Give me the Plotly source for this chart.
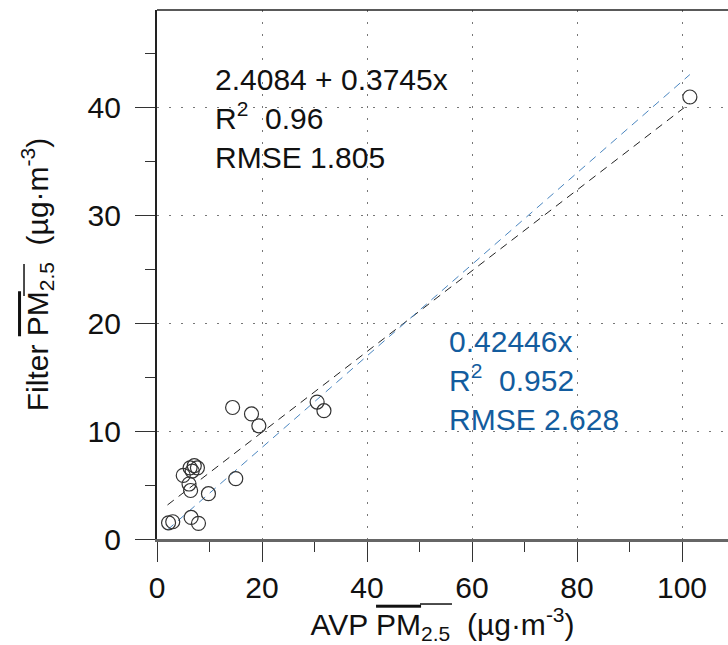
import plotly.graph_objects as go

# Data
avp = [2.2, 3.0, 6.5, 7.9, 9.8, 6.4, 6.1, 5.0, 6.3, 6.7, 7.1, 7.7, 15.0, 14.4, 18.0, 19.4, 30.5, 31.8, 101.5]
filt = [1.5, 1.6, 2.0, 1.45, 4.2, 4.5, 5.1, 5.9, 6.6, 6.3, 6.8, 6.6, 5.6, 12.2, 11.6, 10.5, 12.7, 11.9, 41.0]

fit1_intercept = 2.4084
fit1_slope = 0.3745
fit2_slope = 0.42446
fit_x = [2.0, 101.5]

x_ticks = [0, 20, 40, 60, 80, 100]
y_ticks = [0, 10, 20, 30, 40]

FONT = "Arial, Liberation Sans, sans-serif"
BLUE_TXT = "#135c9e"
BLUE_LINE = "#4a86c0"
nb = "\u00a0"
pad = "<span style='color:rgba(0,0,0,0)'>.</span>"

fig = go.Figure()

fig.add_trace(go.Scatter(
    x=fit_x, y=[fit1_intercept + fit1_slope * v for v in fit_x],
    mode="lines", line=dict(color="#222222", width=1, dash="8px,6px"),
    showlegend=False, hoverinfo="skip"))
fig.add_trace(go.Scatter(
    x=fit_x, y=[fit2_slope * v for v in fit_x],
    mode="lines", line=dict(color=BLUE_LINE, width=1, dash="8px,6px"),
    showlegend=False, hoverinfo="skip"))
fig.add_trace(go.Scatter(
    x=avp, y=filt, mode="markers",
    marker=dict(symbol="circle-open", size=14, color="#333333", line=dict(width=1.2, color="#333333")),
    showlegend=False))

fig.add_annotation(
    x=10.7, y=44.3, xref="x", yref="y", xanchor="left", yanchor="top", align="left",
    showarrow=False,
    text=f"2.4084 + 0.3745x<br>R<sup>2</sup>{nb}{nb}0.96<br>RMSE 1.805",
    font=dict(family=FONT, size=30, color="#111111"))
fig.add_annotation(
    x=55.2, y=20.0, xref="x", yref="y", xanchor="left", yanchor="top", align="left",
    showarrow=False,
    text=f"0.42446x<br>R<sup>2</sup>{nb}{nb}0.952<br>RMSE 2.628",
    font=dict(family=FONT, size=30, color=BLUE_TXT))

# top border
fig.add_shape(type="line", xref="paper", yref="paper", x0=0, x1=1, y0=1, y1=1,
              line=dict(color="#222222", width=1.5))
# overline extension above the "2.5" subscripts of the axis titles
fig.add_shape(type="line", xref="paper", yref="paper", x0=0.4606, x1=0.5166, y0=-0.1229, y1=-0.1229,
              line=dict(color="#111111", width=1.5))
fig.add_shape(type="line", xref="paper", yref="paper", x0=-0.2329, x1=-0.2329, y0=0.4594, y1=0.5198,
              line=dict(color="#111111", width=1.5))

pm = "<span style='text-decoration:overline'>PM</span><sub>2.5</sub>"
xtitle = f"AVP {pm}{nb}{nb}(µg·m<sup>-3</sup>)"
ytitle = f"Filter {pm}{nb}{nb}(µg·m<sup>-3</sup>)"

fig.update_layout(
    width=728, height=645,
    margin=dict(l=157, r=0, t=10, b=106),
    paper_bgcolor="white", plot_bgcolor="white",
    font=dict(family=FONT, color="#111111"),
    xaxis=dict(
        range=[0, 108.76], tickvals=x_ticks, ticktext=[str(v) for v in x_ticks],
        ticks="outside", ticklen=20, tickwidth=1.2, tickcolor="#333333",
        showline=True, linecolor="#666666", linewidth=2.5,
        showgrid=True, gridcolor="#777777", gridwidth=1, griddash="2px,10px",
        zeroline=False,
        tickfont=dict(family=FONT, size=30, color="#111111"),
        minor=dict(dtick=10, tick0=0, ticks="outside", ticklen=10, tickcolor="#333333", tickwidth=1.2, showgrid=False),
        title=dict(text=xtitle, font=dict(family=FONT, size=30, color="#111111"), standoff=8),
        automargin=False,
    ),
    yaxis=dict(
        range=[0, 49.07], tickvals=y_ticks, ticktext=[str(v) + pad for v in y_ticks],
        ticks="outside", ticklen=20, tickwidth=1.2, tickcolor="#333333",
        showline=True, linecolor="#222222", linewidth=1.5,
        showgrid=True, gridcolor="#777777", gridwidth=1, griddash="2px,10px",
        zeroline=False,
        tickfont=dict(family=FONT, size=30, color="#111111"),
        minor=dict(dtick=5, tick0=0, ticks="outside", ticklen=10, tickcolor="#333333", tickwidth=1.2, showgrid=False),
        title=dict(text=ytitle, font=dict(family=FONT, size=30, color="#111111"), standoff=30),
        automargin=False,
    ),
)

fig.write_html("out.html")
